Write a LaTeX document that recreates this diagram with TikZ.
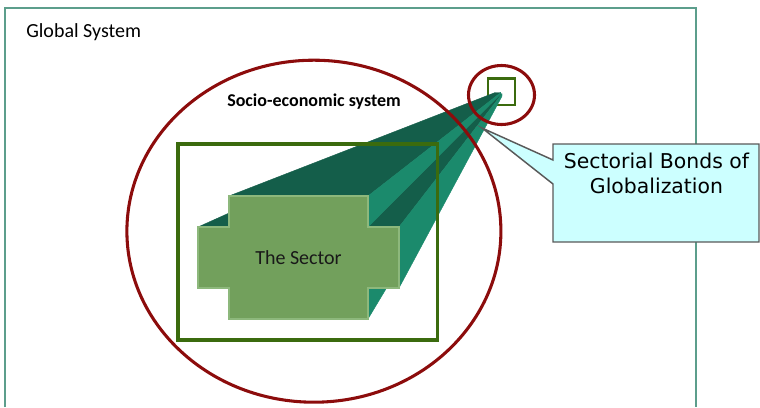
\documentclass[tikz,border=0pt]{standalone}
\usepackage{fontspec}
\setmainfont{Carlito}
\newfontfamily\calloutfont{DejaVu Sans}
\usetikzlibrary{calc}
\definecolor{framegreen}{HTML}{5C9E8C}
\definecolor{ringred}{HTML}{8C0C0C}
\definecolor{boxgreen}{HTML}{3B6B0E}
\definecolor{topteal}{HTML}{145E4A}
\definecolor{sideteal}{HTML}{1B8A6C}
\definecolor{sectorfill}{HTML}{72A05C}
\definecolor{sectoredge}{HTML}{8DB87C}
\definecolor{calloutfill}{HTML}{CCFFFF}
\definecolor{calloutedge}{HTML}{595959}
\tikzset{
	ring/.style={draw=ringred, line width=2.3pt},
	greenbox/.style={draw=boxgreen, line width=2.5pt},
	topface/.style={fill=topteal, draw=topteal, line width=0.3pt, line join=round},
	sideface/.style={fill=sideteal, draw=sideteal, line width=0.3pt, line join=round},
}
\begin{document}
\begin{tikzpicture}[x=0.75pt,y=-0.75pt]
				\useasboundingbox (0,0) rectangle (760,407);
				\draw[framegreen, line width=0.9pt] (5,407) -- (5,8) -- (696,8) -- (696,407);
				\node[anchor=base west, inner sep=0, font=\fontsize{15}{18}\selectfont] (global) at (26,37) {Global System};
				\draw[greenbox, line width=2.2pt] (488,78.5) rectangle (515,105);
				\coordinate (W) at (506.3,88.2);
				\def\far{0.04}
				\coordinate (VTL) at (229,196);
				\coordinate (VTR) at (368,196);
				\coordinate (VBR) at (368,319);
				\coordinate (VBL) at (229,319);
				\coordinate (ATL) at (198,227);
				\coordinate (ATR) at (399,227);
				\coordinate (ABR) at (399,288);
				\coordinate (ABL) at (198,288);
				\coordinate (NTL) at (229,227);
				\coordinate (NTR) at (368,227);
				\coordinate (NBR) at (368,288);
				\coordinate (NBL) at (229,288);
				\foreach \a/\b in {ATL/NTL, NTR/ATR, VTL/VTR}
					\draw[topface] (\a) -- (\b) -- ($(W)!\far!(\b)$) -- ($(W)!\far!(\a)$) -- cycle;
				\foreach \a/\b in {NBR/VBR, ATR/ABR, VTR/NTR}
					\draw[sideface] (\a) -- (\b) -- ($(W)!\far!(\b)$) -- ($(W)!\far!(\a)$) -- cycle;
				\draw[fill=sectorfill, draw=sectoredge, line width=0.8pt] (VTL) -- (VTR) -- (NTR) -- (ATR) -- (ABR) -- (NBR) -- (VBR) -- (VBL) -- (NBL) -- (ABL) -- (ATL) -- (NTL) -- cycle;
				\node[font=\fontsize{15}{18}\selectfont, text=black!90] (sector) at (298.5,257.5) {The Sector};
				\draw[greenbox] (178,144) rectangle (437.5,340);
				\draw[ring] (313.9,231.2) ellipse [x radius=187, y radius=171];
				\draw[ring] (501.5,95) ellipse [x radius=33, y radius=29.5];
				\node[anchor=base west, inner sep=0, font=\bfseries\fontsize{13.5}{16}\selectfont] (socio) at (227,106.5) {Socio-economic system};
				\coordinate (tip) at (482,128);
				\draw[fill=calloutfill, draw=calloutedge, line width=1.1pt, line join=miter] (553,144) -- (759,144) -- (759,242) -- (553,242) -- (553,184) -- (tip) -- (553,160) -- cycle;
				\node[anchor=north, inner sep=0, align=center, font=\calloutfont\fontsize{15.3}{18.3}\selectfont] (bonds) at (656.5,153) {Sectorial Bonds of\\Globalization};
			\end{tikzpicture}
\end{document}
